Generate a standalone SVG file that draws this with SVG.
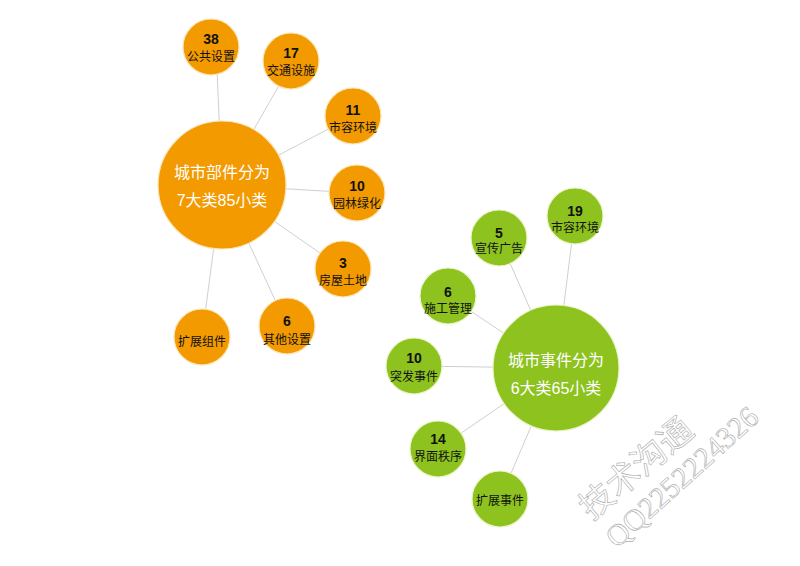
<svg xmlns="http://www.w3.org/2000/svg" width="800" height="566" viewBox="0 0 800 566">
<style>
.o{fill:#F39A00;stroke:#fbe6b8;stroke-width:1.2}
.g{fill:#8DC21F;stroke:#eaf4c8;stroke-width:1.2}
.num{font-family:"Liberation Sans","Noto Sans CJK SC",sans-serif;font-size:14px;font-weight:bold;fill:#111;text-anchor:middle}
.lb{font-family:"Liberation Sans","Noto Sans CJK SC",sans-serif;font-size:12px;fill:#111;text-anchor:middle}
.big{font-family:"Liberation Sans","Noto Sans CJK SC",sans-serif;font-size:16px;fill:#fff;text-anchor:middle}
.ln{stroke:#cfcfcf;stroke-width:1;fill:none}
.wm{font-family:"Liberation Serif","Noto Sans CJK SC",serif;fill:#fff;stroke:#aaa;stroke-width:0.6;text-anchor:middle}
</style>
<rect width="800" height="566" fill="#fff"/>
<g id="connectors">
<line class="ln" x1="222" y1="185" x2="216" y2="47"/>
<line class="ln" x1="222" y1="185" x2="293" y2="61"/>
<line class="ln" x1="222" y1="185" x2="353" y2="116"/>
<line class="ln" x1="222" y1="185" x2="357" y2="193"/>
<line class="ln" x1="222" y1="185" x2="343" y2="269"/>
<line class="ln" x1="222" y1="185" x2="287" y2="326"/>
<line class="ln" x1="222" y1="185" x2="202" y2="337"/>
<line class="ln" x1="556" y1="368" x2="575" y2="216"/>
<line class="ln" x1="556" y1="368" x2="499" y2="238"/>
<line class="ln" x1="556" y1="368" x2="448" y2="296"/>
<line class="ln" x1="556" y1="368" x2="414" y2="366"/>
<line class="ln" x1="556" y1="368" x2="438" y2="449"/>
<line class="ln" x1="556" y1="368" x2="500" y2="499"/>
</g>
<g id="parts">
<circle class="o" cx="222" cy="185" r="64"/>
<text class="big" x="222" y="178">城市部件分为</text>
<text class="big" x="222" y="206">7大类85小类</text>
</g>
<g id="p38"><circle class="o" cx="211" cy="47" r="28"/><text class="num" x="211" y="44">38</text><text class="lb" x="211" y="61">公共设置</text></g>
<g id="p17"><circle class="o" cx="291" cy="61" r="28"/><text class="num" x="291" y="58">17</text><text class="lb" x="291" y="75">交通设施</text></g>
<g id="p11"><circle class="o" cx="353" cy="116" r="28"/><text class="num" x="353" y="115">11</text><text class="lb" x="353" y="132">市容环境</text></g>
<g id="p10"><circle class="o" cx="357" cy="193" r="28"/><text class="num" x="357" y="191">10</text><text class="lb" x="357" y="208">园林绿化</text></g>
<g id="p3"><circle class="o" cx="343" cy="269" r="28"/><text class="num" x="343" y="268">3</text><text class="lb" x="343" y="285">房屋土地</text></g>
<g id="p6"><circle class="o" cx="287" cy="326" r="28"/><text class="num" x="287" y="326">6</text><text class="lb" x="287" y="344">其他设置</text></g>
<g id="pext"><circle class="o" cx="202" cy="337" r="28"/><text class="lb" x="202" y="346">扩展组件</text></g>
<g id="events">
<circle class="g" cx="556" cy="368" r="63"/>
<text class="big" x="556" y="366">城市事件分为</text>
<text class="big" x="556" y="394">6大类65小类</text>
</g>
<g id="e19"><circle class="g" cx="575" cy="216" r="28"/><text class="num" x="575" y="216">19</text><text class="lb" x="575" y="232">市容环境</text></g>
<g id="e5"><circle class="g" cx="499" cy="238" r="28"/><text class="num" x="499" y="238">5</text><text class="lb" x="499" y="253">宣传广告</text></g>
<g id="e6"><circle class="g" cx="448" cy="296" r="28"/><text class="num" x="448" y="297">6</text><text class="lb" x="448" y="313">施工管理</text></g>
<g id="e10"><circle class="g" cx="414" cy="366" r="28"/><text class="num" x="414" y="363">10</text><text class="lb" x="414" y="381">突发事件</text></g>
<g id="e14"><circle class="g" cx="438" cy="449" r="28"/><text class="num" x="438" y="444">14</text><text class="lb" x="438" y="461">界面秩序</text></g>
<g id="eext"><circle class="g" cx="500" cy="499" r="28"/><text class="lb" x="500" y="505">扩展事件</text></g>
<g id="watermark">
<text class="wm" font-size="34" transform="translate(636,468) rotate(-40)" x="0" y="12">技术沟通</text>
<text class="wm" font-size="30" transform="translate(682,477) rotate(-42)" x="0" y="10">QQ2252224326</text>
</g>
</svg>
